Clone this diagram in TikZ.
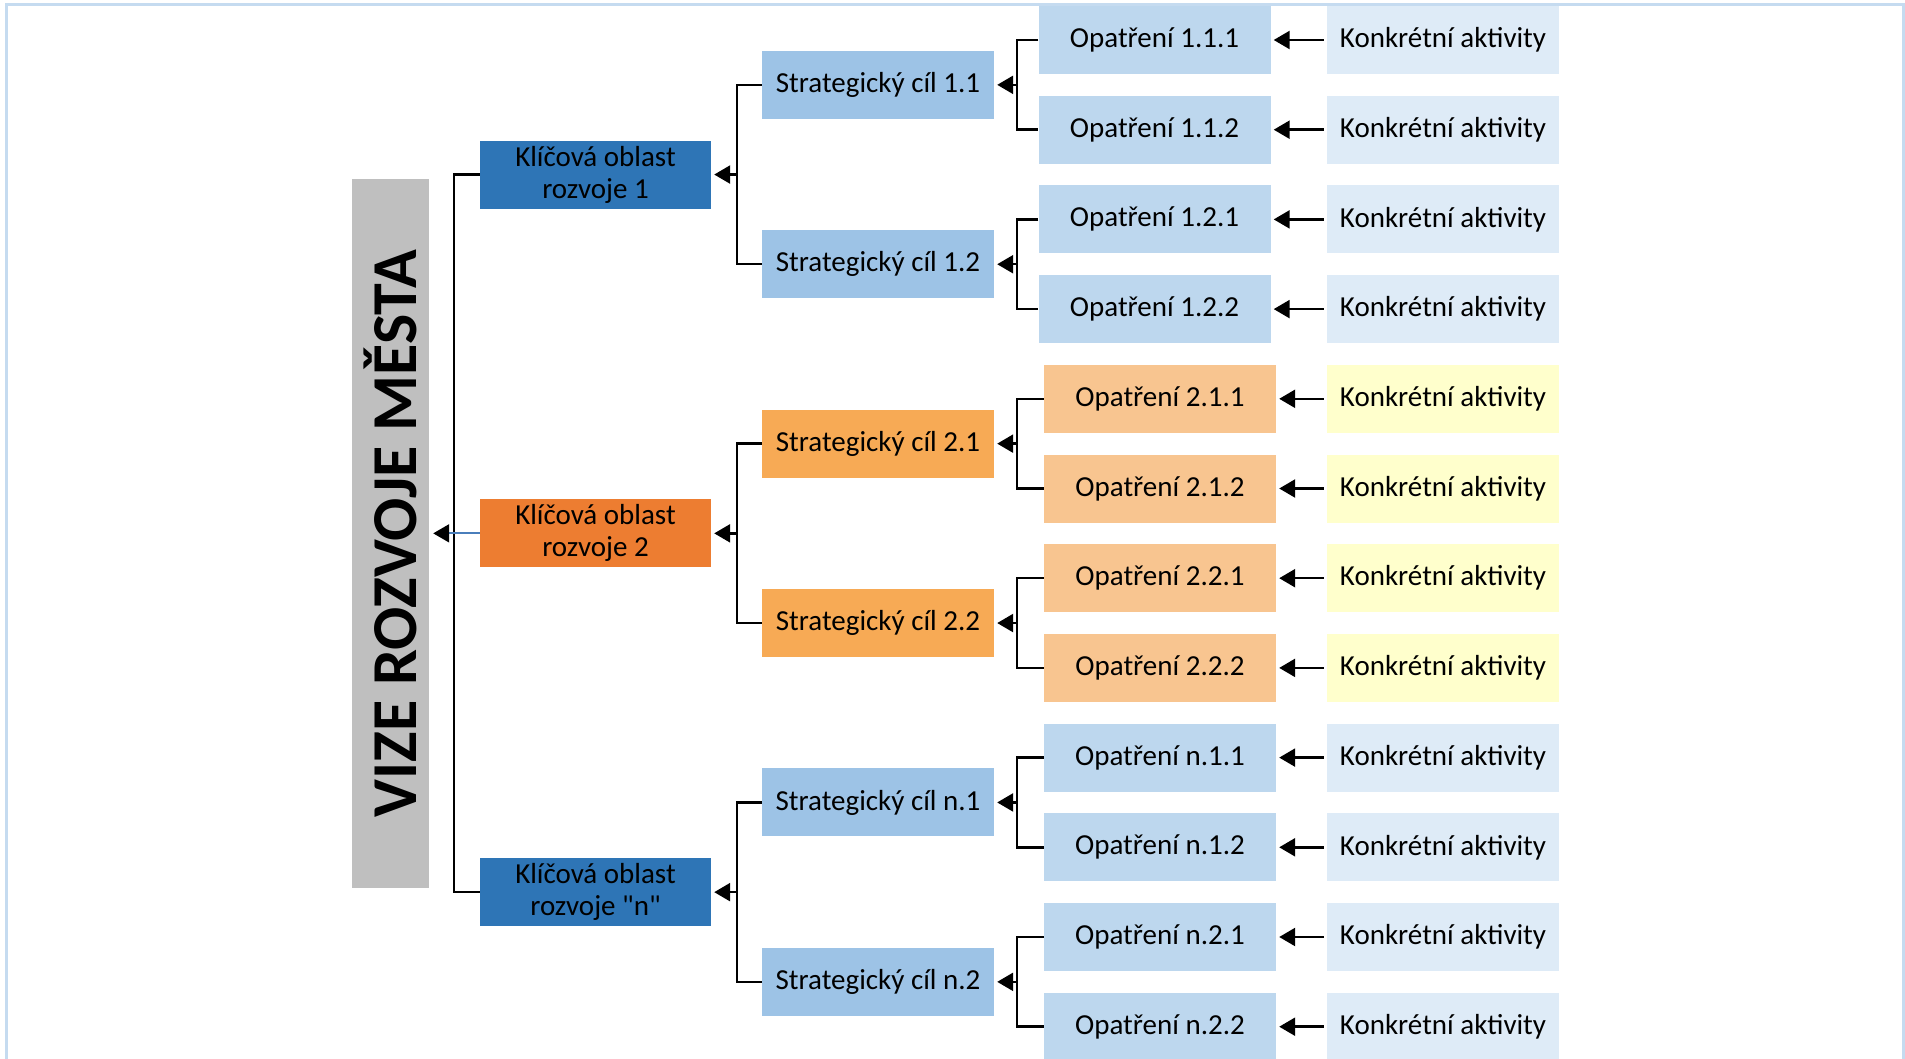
\documentclass[tikz,border=0pt]{standalone}
\usepackage{fontspec}
\setmainfont{Carlito}
\usetikzlibrary{arrows.meta}

\definecolor{koblue}{HTML}{2E75B6}
\definecolor{koorange}{HTML}{ED7D31}
\definecolor{scblue}{HTML}{9DC3E6}
\definecolor{scorange}{HTML}{F7AA55}
\definecolor{opblue}{HTML}{BDD7EE}
\definecolor{oporange}{HTML}{F8C590}
\definecolor{kablue}{HTML}{DEEBF7}
\definecolor{kayellow}{HTML}{FFFFCC}
\definecolor{vizegray}{HTML}{BFBFBF}
\definecolor{framebl}{HTML}{C5DBF0}
\definecolor{linkblue}{HTML}{4A7EBB}

\begin{document}
\begin{tikzpicture}[x=1pt,y=-1pt,
	box/.style={rectangle,minimum width=232pt,minimum height=68pt,inner sep=0pt,align=center,font=\fontsize{29}{32}\selectfont},
	vize/.style={rectangle,fill=vizegray,rotate=90,minimum width=709pt,minimum height=77pt,inner sep=0pt,font=\bfseries\fontsize{64}{64}\selectfont},
	link/.style={line width=2.5pt},
	arr/.style={line width=2.5pt,-{Triangle[length=16pt,width=18pt]},shorten >=3pt}]

	\useasboundingbox (0,0) rectangle (1905,1059);
	\draw[framebl,line width=3pt] (6,1059) -- (6,5) -- (1903,5) -- (1903,1059);

	\node[vize] (vize) at (390.5,533.5) {VIZE ROZVOJE MĚSTA};

	\node[box,fill=koblue,minimum width=231pt]   (ko1) at (595.5,174.55) {Klíčová oblast\\rozvoje 1};
	\node[box,fill=koorange,minimum width=231pt] (ko2) at (595.5,533.35) {Klíčová oblast\\rozvoje 2};
	\node[box,fill=koblue,minimum width=231pt]   (kon) at (595.5,892.15) {Klíčová oblast\\rozvoje \textquotedbl n\textquotedbl};

	\node[box,fill=scblue]   (sc11) at (878,84.85)  {Strategický cíl 1.1};
	\node[box,fill=scblue]   (sc12) at (878,264.25) {Strategický cíl 1.2};
	\node[box,fill=scorange] (sc21) at (878,443.65) {Strategický cíl 2.1};
	\node[box,fill=scorange] (sc22) at (878,623.05) {Strategický cíl 2.2};
	\node[box,fill=scblue]   (scn1) at (878,802.45) {Strategický cíl n.1};
	\node[box,fill=scblue]   (scn2) at (878,981.85) {Strategický cíl n.2};

	\node[box,fill=opblue]   (op111) at (1154.5,40.0)   {Opatření 1.1.1};
	\node[box,fill=opblue]   (op112) at (1154.5,129.7)  {Opatření 1.1.2};
	\node[box,fill=opblue]   (op121) at (1154.5,219.4)  {Opatření 1.2.1};
	\node[box,fill=opblue]   (op122) at (1154.5,309.1)  {Opatření 1.2.2};
	\node[box,fill=oporange] (op211) at (1160,398.8)    {Opatření 2.1.1};
	\node[box,fill=oporange] (op212) at (1160,488.5)    {Opatření 2.1.2};
	\node[box,fill=oporange] (op221) at (1160,578.2)    {Opatření 2.2.1};
	\node[box,fill=oporange] (op222) at (1160,667.9)    {Opatření 2.2.2};
	\node[box,fill=opblue]   (opn11) at (1160,757.6)    {Opatření n.1.1};
	\node[box,fill=opblue]   (opn12) at (1160,847.3)    {Opatření n.1.2};
	\node[box,fill=opblue]   (opn21) at (1160,937.0)    {Opatření n.2.1};
	\node[box,fill=opblue]   (opn22) at (1160,1026.7)   {Opatření n.2.2};

	\node[box,fill=kablue]   (ka111) at (1443,40.0)   {Konkrétní aktivity};
	\node[box,fill=kablue]   (ka112) at (1443,129.7)  {Konkrétní aktivity};
	\node[box,fill=kablue]   (ka121) at (1443,219.4)  {Konkrétní aktivity};
	\node[box,fill=kablue]   (ka122) at (1443,309.1)  {Konkrétní aktivity};
	\node[box,fill=kayellow] (ka211) at (1443,398.8)  {Konkrétní aktivity};
	\node[box,fill=kayellow] (ka212) at (1443,488.5)  {Konkrétní aktivity};
	\node[box,fill=kayellow] (ka221) at (1443,578.2)  {Konkrétní aktivity};
	\node[box,fill=kayellow] (ka222) at (1443,667.9)  {Konkrétní aktivity};
	\node[box,fill=kablue]   (kan11) at (1443,757.6)  {Konkrétní aktivity};
	\node[box,fill=kablue]   (kan12) at (1443,847.3)  {Konkrétní aktivity};
	\node[box,fill=kablue]   (kan21) at (1443,937.0)  {Konkrétní aktivity};
	\node[box,fill=kablue]   (kan22) at (1443,1026.7) {Konkrétní aktivity};

	% junctions
	\coordinate (j0) at (454,533.35);
	\coordinate (j1) at (737,174.55);
	\coordinate (j2) at (737,533.35);
	\coordinate (j3) at (737,892.15);
	\coordinate (k11) at (1017,84.85);
	\coordinate (k12) at (1017,264.25);
	\coordinate (k21) at (1017,443.65);
	\coordinate (k22) at (1017,623.05);
	\coordinate (kn1) at (1017,802.45);
	\coordinate (kn2) at (1017,981.85);

	\draw[link] (ko1.west) -| (j0) |- (kon.west);
	\draw[line width=2pt,linkblue,-{Triangle[length=16pt,width=18pt,black]},shorten >=4pt] (ko2.west) -- (ko2.west -| vize.south);

	\draw[link] (sc11.west) -| (j1) |- (sc12.west);
	\draw[link] (sc21.west) -| (j2) |- (sc22.west);
	\draw[link] (scn1.west) -| (j3) |- (scn2.west);
	\draw[arr] (j1) -- (ko1.east);
	\draw[arr] (j2) -- (ko2.east);
	\draw[arr] (j3) -- (kon.east);

	\draw[link] (op111.west) -| (k11) |- (op112.west);
	\draw[link] (op121.west) -| (k12) |- (op122.west);
	\draw[link] (op211.west) -| (k21) |- (op212.west);
	\draw[link] (op221.west) -| (k22) |- (op222.west);
	\draw[link] (opn11.west) -| (kn1) |- (opn12.west);
	\draw[link] (opn21.west) -| (kn2) |- (opn22.west);
	\draw[arr] (k11) -- (sc11.east);
	\draw[arr] (k12) -- (sc12.east);
	\draw[arr] (k21) -- (sc21.east);
	\draw[arr] (k22) -- (sc22.east);
	\draw[arr] (kn1) -- (scn1.east);
	\draw[arr] (kn2) -- (scn2.east);

	\path[arr,shorten <=3pt] (ka111) edge (op111);
	\path[arr,shorten <=3pt] (ka112) edge (op112);
	\path[arr,shorten <=3pt] (ka121) edge (op121);
	\path[arr,shorten <=3pt] (ka122) edge (op122);
	\path[arr,shorten <=3pt] (ka211) edge (op211);
	\path[arr,shorten <=3pt] (ka212) edge (op212);
	\path[arr,shorten <=3pt] (ka221) edge (op221);
	\path[arr,shorten <=3pt] (ka222) edge (op222);
	\path[arr,shorten <=3pt] (kan11) edge (opn11);
	\path[arr,shorten <=3pt] (kan12) edge (opn12);
	\path[arr,shorten <=3pt] (kan21) edge (opn21);
	\path[arr,shorten <=3pt] (kan22) edge (opn22);

\end{tikzpicture}
\end{document}
